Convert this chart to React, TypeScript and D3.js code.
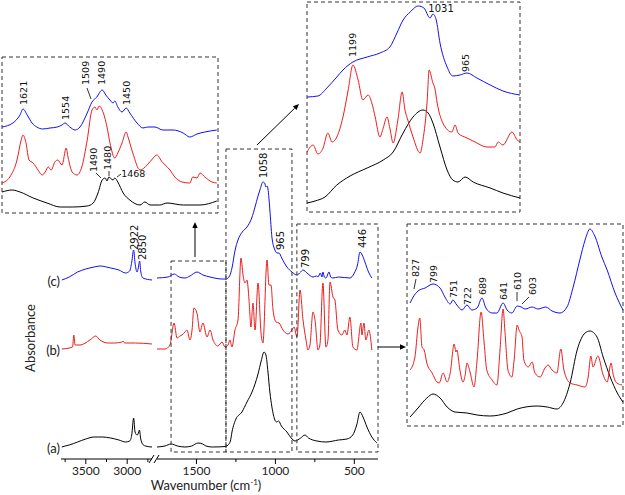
import React from 'react';
import * as d3 from 'd3';

type P = [number, number];

// ---------- main panel spectra: [wavenumber, absorbance above own baseline] ----------
const mainAHigh: P[] = [[3790,0],[3750,1],[3700,2],[3600,5],[3500,8],[3400,10],[3350,10],[3300,10],[3200,9],[3100,7],[3020,5],[2970,6],[2945,12],[2922,29],[2905,15],[2880,12],[2868,13],[2852,17],[2838,9],[2815,3],[2780,1],[2700,0]];
const mainALow: P[] = [[1750,0],[1700,1],[1660,3],[1620,1],[1573,0],[1530,1],[1490,4],[1460,3],[1440,1],[1400,0],[1313,0.5],[1300,2],[1285,6],[1275,15],[1250,28],[1212,35],[1180,45],[1148,55],[1110,73],[1090,86],[1072,95],[1060,92],[1047,75],[1035,55],[1022,40],[1003,27],[992,25],[980,26],[962,21],[927,15],[900,9],[876,6],[840,9],[813,12],[790,9],[737,6],[680,5],[600,7],[547,8],[510,12],[485,22],[464,35],[445,30],[420,20],[389,10],[357,4]];

const mainBHigh: P[] = [[3790,0],[3700,1],[3660,2],[3645,14],[3630,4],[3570,4],[3450,9],[3380,13],[3330,9],[3230,6],[3150,6],[3060,7],[3050,8],[3030,6],[2900,6],[2700,5]];
const mainBLow: P[] = [[1750,0],[1699,0],[1668,4],[1642,26],[1623,11],[1604,13],[1592,14],[1573,17],[1560,19],[1541,9],[1528,19],[1516,41],[1497,36],[1478,17],[1459,26],[1433,12],[1414,19],[1395,9],[1364,3],[1338,7],[1319,2],[1300,4],[1288,9],[1275,2],[1256,19],[1237,29],[1218,91],[1205,74],[1193,66],[1180,69],[1167,49],[1155,22],[1142,46],[1129,19],[1110,66],[1091,16],[1079,6],[1053,89],[1041,64],[1028,64],[1015,39],[996,27],[977,26],[952,19],[920,15],[895,19],[882,22],[863,12],[844,59],[825,29],[806,9],[794,-1],[781,4],[762,37],[749,29],[730,-1],[718,4],[699,66],[680,2],[667,9],[654,67],[635,52],[623,49],[604,19],[579,14],[560,19],[547,14],[528,32],[509,2],[484,-1],[458,26],[452,14],[439,26],[427,9],[408,19],[389,-1]];

const mainCHigh: P[] = [[3790,0],[3700,3],[3600,8],[3500,11],[3400,13],[3330,14],[3200,12],[3100,10],[3020,7],[2970,9],[2945,18],[2922,30],[2905,17],[2880,8],[2866,12],[2850,19],[2835,8],[2810,2],[2700,0]];
const mainCLow: P[] = [[1750,2],[1680,3],[1640,6],[1610,3],[1573,2],[1541,4],[1497,8],[1459,5],[1414,3],[1338,1],[1313,1],[1290,4],[1275,12],[1255,30],[1237,40],[1210,48],[1180,53],[1150,62],[1129,73],[1110,84],[1098,90],[1079,98],[1068,97],[1060,93],[1052,94],[1047,91],[1035,70],[1022,43],[1003,30],[990,27],[977,27],[960,22],[927,13],[895,8],[863,5],[840,8],[825,10],[800,7],[762,3],[740,4],[730,3],[715,7],[705,3],[699,8],[690,3],[680,2],[660,8],[650,3],[636,2],[600,3],[528,2],[500,7],[480,15],[464,28],[450,25],[433,18],[410,8],[389,2]];

// ---------- inset 1 (1660-1300 cm-1) ----------
const in1C: P[] = [[1660,86],[1642,90],[1630,98],[1625,104],[1618,98],[1610,90],[1602,86],[1592,84],[1580,85],[1568,86],[1560,88],[1555,90],[1547,86],[1538,83],[1530,86],[1518,100],[1510,111],[1502,116],[1493,123],[1487,118],[1480,113],[1475,110],[1472,112],[1467,106],[1460,101],[1453,105],[1447,100],[1435,90],[1425,85],[1417,86],[1405,86],[1392,83],[1375,83],[1358,80],[1347,76],[1335,79],[1322,81],[1302,83]];
const in1B: P[] = [[1660,30],[1647,36],[1635,53],[1628,73],[1625,78],[1620,70],[1615,53],[1608,50],[1600,43],[1593,38],[1588,41],[1583,46],[1578,43],[1572,51],[1567,53],[1560,48],[1553,65],[1550,56],[1543,41],[1535,38],[1527,46],[1518,73],[1510,103],[1505,106],[1502,103],[1498,107],[1493,103],[1485,86],[1480,70],[1472,55],[1467,60],[1460,70],[1453,81],[1450,76],[1442,60],[1430,43],[1418,48],[1408,55],[1402,58],[1393,51],[1388,48],[1380,43],[1372,36],[1360,31],[1347,30],[1342,36],[1335,35],[1330,40],[1322,36],[1310,31],[1302,30]];
const in1A: P[] = [[1660,21],[1643,23],[1630,21],[1608,15],[1585,10],[1563,6],[1542,6],[1518,7],[1508,10],[1500,20],[1493,33],[1488,35],[1485,32],[1482,36],[1475,33],[1472,35],[1467,31],[1458,20],[1447,13],[1430,8],[1422,11],[1413,8],[1397,8],[1385,10],[1358,8],[1330,8],[1302,12]];

// ---------- inset 2 (1300-850 cm-1) ----------
const in2C: P[] = [[1300,115],[1277,116],[1258,124],[1237,135],[1224,142],[1203,150],[1173,155],[1146,159],[1125,165],[1110,179],[1097,192],[1082,200],[1065,206],[1053,204],[1040,194],[1034,198],[1027,192],[1019,169],[1004,145],[992,136],[977,137],[962,139],[941,134],[913,127],[886,121],[850,117]];
const in2B: P[] = [[1300,60],[1287,67],[1277,58],[1266,64],[1256,79],[1247,70],[1237,75],[1224,95],[1213,122],[1203,147],[1192,132],[1182,112],[1171,117],[1163,109],[1156,95],[1146,75],[1139,84],[1131,95],[1125,84],[1118,69],[1108,92],[1099,120],[1093,102],[1087,92],[1076,75],[1061,59],[1055,72],[1046,112],[1042,142],[1034,129],[1030,124],[1025,109],[1013,89],[994,80],[987,87],[981,79],[962,74],[945,70],[920,65],[903,65],[896,70],[886,67],[867,80],[856,72],[850,70]];
const in2A: P[] = [[1300,9],[1283,11],[1262,15],[1237,27],[1209,36],[1173,44],[1139,52],[1118,60],[1097,79],[1076,95],[1055,102],[1044,99],[1034,89],[1019,65],[1004,42],[992,32],[981,30],[966,35],[949,30],[913,24],[886,19],[850,14]];

// ---------- inset 3 (860-370 cm-1) ----------
const in3C: P[] = [[853,123],[846,129],[835,135],[819,138],[801,142],[785,138],[774,129],[762,122],[756,126],[747,121],[735,116],[724,121],[713,116],[701,118],[690,128],[681,118],[667,113],[656,113],[642,123],[633,116],[622,113],[610,120],[601,119],[592,117],[576,119],[563,117],[545,119],[531,115],[513,113],[497,119],[483,139],[468,166],[456,186],[445,197],[434,190],[418,169],[406,156],[388,133],[370,116]];
const in3B: P[] = [[853,56],[842,69],[835,99],[831,108],[826,79],[821,76],[815,63],[803,53],[792,44],[787,43],[778,53],[769,44],[762,53],[753,82],[749,74],[747,76],[740,56],[733,44],[728,51],[724,63],[717,54],[708,39],[701,66],[692,114],[685,83],[679,56],[667,46],[656,41],[649,76],[642,117],[638,96],[631,56],[622,49],[617,66],[610,101],[606,96],[599,89],[595,66],[585,59],[576,64],[570,53],[558,49],[547,58],[540,61],[531,56],[520,53],[511,77],[504,56],[490,43],[474,41],[456,39],[449,49],[443,70],[438,59],[427,70],[415,51],[406,44],[397,63],[393,53],[384,43],[372,41]];
const in3A: P[] = [[853,9],[835,18],[815,28],[801,32],[785,28],[769,19],[751,14],[724,13],[701,11],[672,10],[633,13],[610,17],[565,20],[542,19],[520,17],[506,23],[490,43],[474,76],[456,93],[445,95],[429,89],[415,69],[399,49],[383,33],[370,24]];

// ---------- ticks & labels ----------
const ticksHighMajor = [3500, 3000];
const ticksHighMinor = [3750, 3250, 2750];
const ticksLowMajor = [1500, 1000, 500];
const ticksLowMinor = [1250, 750];
const seriesNames = ['(a)', '(b)', '(c)'];
const seriesOffsets = [0, 98, 167];
const zoomRanges: [number, number][] = [[1661, 1313], [1313, 895], [864, 350]];

const COLORS = ['#000000', '#ee1c1c', '#1010f0'];

const ANNO_FONT = '"DejaVu Sans", Verdana, sans-serif';
const MAIN_FONT = 'Lato, "Open Sans", sans-serif';

function Rot({ x, y, t, size = 9.5 }: { x: number; y: number; t: string; size?: number }) {
  return (
    <text transform={`translate(${x},${y}) rotate(-90)`} dy="0.36em" fontSize={size} fontFamily={ANNO_FONT} fill="#111">{t}</text>
  );
}

function Arrow({ x1, y1, x2, y2, head = 6 }: { x1: number; y1: number; x2: number; y2: number; head?: number }) {
  const a = Math.atan2(y2 - y1, x2 - x1);
  const w = head * 0.45;
  const bx = x2 - head * Math.cos(a), by = y2 - head * Math.sin(a);
  const pts = [
    [x2, y2],
    [bx + w * Math.sin(a), by - w * Math.cos(a)],
    [bx - w * Math.sin(a), by + w * Math.cos(a)],
  ].map(p => p.join(',')).join(' ');
  return (
    <g>
      <line x1={x1} y1={y1} x2={bx} y2={by} stroke="#000" strokeWidth={1} />
      <polygon points={pts} fill="#000" />
    </g>
  );
}

export default function App() {
  const xHigh = d3.scaleLinear().domain([3800, 2700]).range([61, 152]);
  const xLow = d3.scaleLinear().domain([1750, 350]).range([157, 378]);
  const yMain = d3.scaleLinear().domain([0, 250]).range([447, 197]);

  const mk = (xs: d3.ScaleLinear<number, number>, ys: d3.ScaleLinear<number, number>, off = 0) =>
    d3.line<P>().x(d => xs(d[0])).y(d => ys(d[1] + off)).curve(d3.curveMonotoneX);

  const high = [mainAHigh, mainBHigh, mainCHigh];
  const low = [mainALow, mainBLow, mainCLow];

  const x1 = d3.scaleLinear().domain([1660, 1300]).range([2, 218]);
  const y1 = d3.scaleLinear().domain([0, 156]).range([213, 57]);
  const x2 = d3.scaleLinear().domain([1300, 850]).range([307, 520]);
  const y2 = d3.scaleLinear().domain([0, 210]).range([212, 2]);
  const x3 = d3.scaleLinear().domain([860, 370]).range([407, 623]);
  const y3 = d3.scaleLinear().domain([0, 202]).range([426, 224]);

  const insets = [
    { xs: x1, ys: y1, data: [in1A, in1B, in1C] },
    { xs: x2, ys: y2, data: [in2A, in2B, in2C] },
    { xs: x3, ys: y3, data: [in3A, in3B, in3C] },
  ];

  const axisY = 459;
  const boxTops = [261, 149, 224];
  const boxBottom = 452;

  const dash = '4,3';

  return (
    <svg width={625} height={495} style={{ position: 'fixed', left: 0, top: 0, background: '#fff' }}>
      <rect width={625} height={495} fill="#fff" />

      {/* main spectra */}
      {high.map((d, i) => (
        <path key={'h' + i} d={mk(xHigh, yMain, seriesOffsets[i])(d) || ''} fill="none" stroke={COLORS[i]} strokeWidth={1} />
      ))}
      {low.map((d, i) => (
        <path key={'l' + i} d={mk(xLow, yMain, seriesOffsets[i])(d) || ''} fill="none" stroke={COLORS[i]} strokeWidth={1} />
      ))}

      {/* series labels */}
      {seriesNames.map((n, i) => (
        <text key={n} x={60} y={yMain(seriesOffsets[i]) + 1} dy="0.35em" textAnchor="end" fontSize={13} fontFamily={MAIN_FONT} fill="#222">{n}</text>
      ))}

      {/* zoom boxes on main */}
      {zoomRanges.map((r, i) => (
        <rect key={'zb' + i} x={xLow(r[0])} y={boxTops[i]} width={xLow(r[1]) - xLow(r[0])} height={boxBottom - boxTops[i]} fill="none" stroke="#333" strokeWidth={1} strokeDasharray={dash} />
      ))}

      {/* x axis */}
      <line x1={xHigh(3800)} x2={xHigh(2700)} y1={axisY} y2={axisY} stroke="#000" />
      <line x1={xLow(1750)} x2={xLow(350)} y1={axisY} y2={axisY} stroke="#000" />
      <line x1={149} y1={463} x2={154} y2={455} stroke="#000" />
      <line x1={154} y1={463} x2={159} y2={455} stroke="#000" />
      {ticksHighMajor.map(t => <line key={'thm' + t} x1={xHigh(t)} x2={xHigh(t)} y1={axisY} y2={axisY + 5} stroke="#000" />)}
      {ticksHighMinor.map(t => <line key={'thn' + t} x1={xHigh(t)} x2={xHigh(t)} y1={axisY} y2={axisY + 3} stroke="#000" />)}
      {ticksLowMajor.map(t => <line key={'tlm' + t} x1={xLow(t)} x2={xLow(t)} y1={axisY} y2={axisY + 5} stroke="#000" />)}
      {ticksLowMinor.map(t => <line key={'tln' + t} x1={xLow(t)} x2={xLow(t)} y1={axisY} y2={axisY + 3} stroke="#000" />)}
      {ticksHighMajor.map(t => <text key={'lh' + t} x={xHigh(t)} y={475} textAnchor="middle" fontSize={12} fontFamily={MAIN_FONT} fill="#222">{t}</text>)}
      {ticksLowMajor.map(t => <text key={'ll' + t} x={xLow(t)} y={475} textAnchor="middle" fontSize={12} fontFamily={MAIN_FONT} fill="#222">{t}</text>)}
      <text x={206} y={490} textAnchor="middle" fontSize={13} fontFamily={MAIN_FONT} fill="#222">
        Wavenumber (cm<tspan dy={-5} fontSize={8}>-1</tspan><tspan dy={5}>)</tspan>
      </text>
      <text transform="translate(35,338) rotate(-90)" textAnchor="middle" fontSize={13} fontFamily={MAIN_FONT} fill="#222">Absorbance</text>

      {/* main annotations */}
      <Rot x={xHigh(2922) + 1} y={250} t="2922" size={10} />
      <Rot x={xHigh(2850) + 3} y={260} t="2850" size={10} />
      <Rot x={xLow(1058) - 3} y={178} t="1058" size={10} />
      <Rot x={xLow(965) - 1} y={250} t="965" size={10} />
      <Rot x={xLow(799) - 2} y={268} t="799" size={10} />
      <Rot x={xLow(446)} y={248} t="446" size={10} />

      {/* arrows */}
      <Arrow x1={195} y1={257} x2={195} y2={222} />
      <Arrow x1={257} y1={145} x2={299} y2={104} />
      <Arrow x1={378} y1={347} x2={406} y2={347} />

      {/* insets */}
      {insets.map((ins, k) => (
        <g key={'in' + k}>
          <rect x={ins.xs.range()[0]} y={ins.ys.range()[1]} width={ins.xs.range()[1] - ins.xs.range()[0]} height={ins.ys.range()[0] - ins.ys.range()[1]} fill="none" stroke="#333" strokeDasharray={dash} />
          {ins.data.map((d, i) => (
            <path key={i} d={mk(ins.xs, ins.ys)(d) || ''} fill="none" stroke={COLORS[i]} strokeWidth={1} />
          ))}
        </g>
      ))}

      {/* inset 1 labels */}
      <Rot x={x1(1621) - 2} y={105} t="1621" />
      <Rot x={x1(1554)} y={120} t="1554" />
      <Rot x={x1(1509) - 7} y={85} t="1509" />
      <line x1={87} y1={88} x2={91} y2={99} stroke="#000" strokeWidth={0.8} />
      <Rot x={x1(1490) - 2} y={85} t="1490" />
      <Rot x={x1(1450) - 1} y={105} t="1450" />
      <Rot x={x1(1490) - 10} y={172} t="1490" />
      <line x1={96} y1={173} x2={101} y2={178} stroke="#000" strokeWidth={0.8} />
      <Rot x={x1(1480) - 2} y={170} t="1480" />
      <line x1={109} y1={171} x2={109} y2={176} stroke="#000" strokeWidth={0.8} />
      <text x={x1(1468) + 4} y={177} fontSize={9.5} fontFamily={ANNO_FONT} fill="#111">1468</text>
      <line x1={117} y1={177} x2={121} y2={174} stroke="#000" strokeWidth={0.8} />

      {/* inset 2 labels */}
      <Rot x={x2(1199) - 2} y={57} t="1199" />
      <text x={x2(1031) - 6} y={12} fontSize={10} fontFamily={ANNO_FONT} fill="#111">1031</text>
      <Rot x={x2(965)} y={72} t="965" />

      {/* inset 3 labels */}
      <Rot x={x3(827) - 6} y={277} t="827" />
      <line x1={416} y1={279} x2={414} y2={289} stroke="#000" strokeWidth={0.8} />
      <Rot x={x3(799)} y={283} t="799" />
      <Rot x={x3(751) - 1} y={298} t="751" />
      <Rot x={x3(722)} y={305} t="722" />
      <Rot x={x3(689)} y={295} t="689" />
      <Rot x={x3(641)} y={300} t="641" />
      <Rot x={x3(610)} y={290} t="610" />
      <line x1={517} y1={292} x2={517} y2={301} stroke="#000" strokeWidth={0.8} />
      <Rot x={x3(603) + 12} y={295} t="603" />
      <line x1={529} y1={297} x2={522} y2={304} stroke="#000" strokeWidth={0.8} />
    </svg>
  );
}
